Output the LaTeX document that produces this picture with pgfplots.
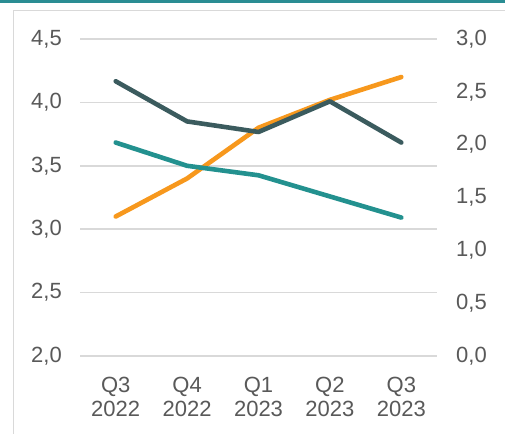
\documentclass[border=0pt]{standalone}
\usepackage{fontspec}
\setmainfont{Liberation Sans}
\usepackage{pgfplots}
\pgfplotsset{compat=1.18}
\definecolor{darkslate}{HTML}{3B5B5E}
\definecolor{tealc}{HTML}{23918F}
\definecolor{orangec}{HTML}{F7981D}
\definecolor{gridc}{HTML}{D9D9D9}
\definecolor{textc}{HTML}{595959}
\definecolor{topbar}{HTML}{2A8D93}
\pgfplotsset{
  common/.style={
    at={(80bp,78bp)}, anchor=south west, scale only axis,
    width=357bp, height=317bp,
    xmin=-0.5, xmax=4.5,
    axis line style={draw=none},
    major tick length=0pt,
    tick label style={font=\fontsize{22bp}{24bp}\selectfont, text=textc, inner sep=0pt},
    /pgf/number format/.cd, use comma, fixed, fixed zerofill, precision=1, assume math mode=true,
  }
}
\begin{document}
\begin{tikzpicture}[x=1bp,y=1bp]
\useasboundingbox (0,0) rectangle (505,434);
\fill[white] (0,0) rectangle (505,434);
\draw[gridc, line width=1.5bp] (13.5,-5) -- (13.5,423.5) -- (510,423.5);
\fill[topbar] (0,431) rectangle (505,434);
\begin{axis}[common,
  ymin=2, ymax=4.5, ytick={2,2.5,3,3.5,4,4.5},
  axis y line*=left, axis x line*=bottom,
  ymajorgrids, grid style={gridc, line width=1.5bp},
  xtick={0,1,2,3,4},
  xticklabels={{Q3\\2022},{Q4\\2022},{Q1\\2023},{Q2\\2023},{Q3\\2023}},
  xticklabel style={align=center, anchor=north, yshift=-20.5bp},
  yticklabel style={anchor=east, xshift=-18bp},
]
\addplot[orangec, line width=4.6bp, line cap=round, line join=round] coordinates {(0,3.1) (1,3.4) (2,3.8) (3,4.02) (4,4.2)};
\end{axis}
\begin{axis}[common,
  ymin=0, ymax=3, ytick={0,0.5,1,1.5,2,2.5,3},
  axis y line*=right, axis x line*=bottom, xtick=\empty,
  yticklabel style={anchor=west, xshift=19bp},
]
\addplot[tealc, line width=4.6bp, line cap=round, line join=round] coordinates {(0,2.02) (1,1.8) (2,1.71) (3,1.51) (4,1.31)};
\addplot[darkslate, line width=4.6bp, line cap=round, line join=round] coordinates {(0,2.6) (1,2.22) (2,2.12) (3,2.41) (4,2.02)};
\end{axis}
\end{tikzpicture}
\end{document}
